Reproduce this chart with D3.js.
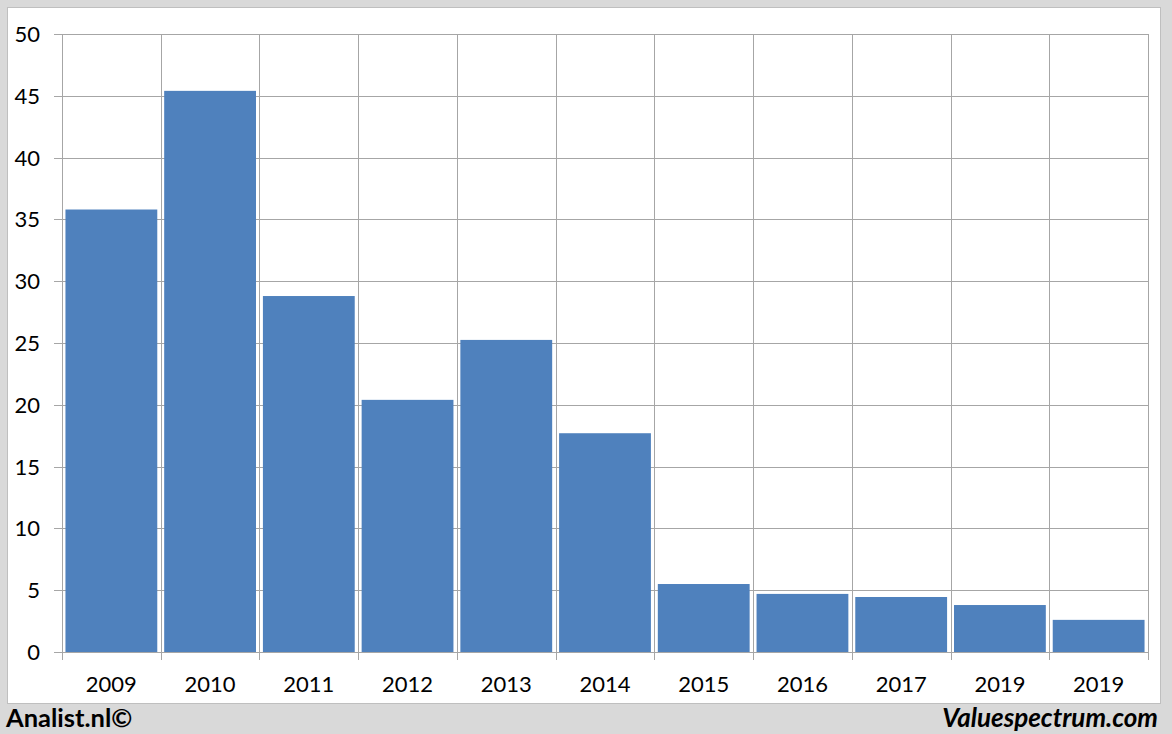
<!DOCTYPE html>
<html><head><meta charset="utf-8">
<script src="https://cdn.jsdelivr.net/npm/d3@7"></script>
<style>
html,body{margin:0;padding:0;background:#d9d9d9;}
svg{display:block;}
</style></head>
<body>
<svg id="chart" width="1172" height="734"></svg>
<script>
const categories = ["2009","2010","2011","2012","2013","2014","2015","2016","2017","2019","2019 "];
const values = [35.8, 45.4, 28.8, 20.4, 25.25, 17.7, 5.5, 4.7, 4.45, 3.8, 2.6];
const yTicks = [0,5,10,15,20,25,30,35,40,45,50];

const svg = d3.select("#chart");
const W = 1172, H = 734;
const m = {left: 62, right: 1148, top: 34, bottom: 652};

svg.append("rect").attr("x",0).attr("y",0).attr("width",W).attr("height",H).attr("fill","#d9d9d9");
svg.append("rect").attr("x",7.5).attr("y",7.5).attr("width",1153).attr("height",696)
  .attr("fill","#ffffff").attr("stroke","#bfbfbf").attr("stroke-width",1);

const x = d3.scaleBand().domain(categories).range([m.left, m.right]).paddingInner(0.07).paddingOuter(0.035);
const xb = d3.scaleBand().domain(categories).range([m.left, m.right]).padding(0);
const y = d3.scaleLinear().domain([0,50]).range([m.bottom, m.top]);

const grid = svg.append("g");
yTicks.forEach(t => {
  grid.append("line").attr("x1", 54).attr("x2", m.right)
    .attr("y1", Math.round(y(t))+0.5).attr("y2", Math.round(y(t))+0.5)
    .attr("stroke","#a6a6a6").attr("stroke-width",1);
});
const bounds = categories.map(c => xb(c)).concat([m.right]);
bounds.forEach(b => {
  grid.append("line").attr("x1", Math.round(b)+0.5).attr("x2", Math.round(b)+0.5)
    .attr("y1", m.top).attr("y2", 660)
    .attr("stroke","#a6a6a6").attr("stroke-width",1);
});

svg.append("g").selectAll("rect").data(values).join("rect")
  .attr("x", (d,i) => x(categories[i]))
  .attr("width", x.bandwidth())
  .attr("y", d => y(d))
  .attr("height", d => y(0) - y(d))
  .attr("fill", "#4f81bd");

svg.append("line").attr("x1", 54).attr("x2", m.right)
  .attr("y1", Math.round(y(0))+0.5).attr("y2", Math.round(y(0))+0.5)
  .attr("stroke","#a6a6a6").attr("stroke-width",1);

const font = "Lato, 'Open Sans', sans-serif";
svg.append("g").selectAll("text").data(yTicks).join("text")
  .attr("x", 40).attr("y", d => y(d) + 8)
  .attr("text-anchor","end")
  .attr("font-family", font).attr("font-size", 22).attr("fill","#000")
  .text(d => d);

svg.append("g").selectAll("text").data(categories).join("text")
  .attr("x", d => xb(d) + xb.bandwidth()/2).attr("y", 692)
  .attr("text-anchor","middle")
  .attr("font-family", font).attr("font-size", 22).attr("fill","#000")
  .text(d => d.trim());

svg.append("text").attr("x", 6).attr("y", 727)
  .attr("font-family", font).attr("font-size", 25.5).attr("font-weight","bold").attr("fill","#000")
  .text("Analist.nl©");
svg.append("text").attr("x", 1158).attr("y", 727).attr("text-anchor","end")
  .attr("font-family", font).attr("font-size", 26).attr("font-weight","bold").attr("font-style","italic").attr("fill","#000")
  .text("Valuespectrum.com");
</script>
</body></html>
